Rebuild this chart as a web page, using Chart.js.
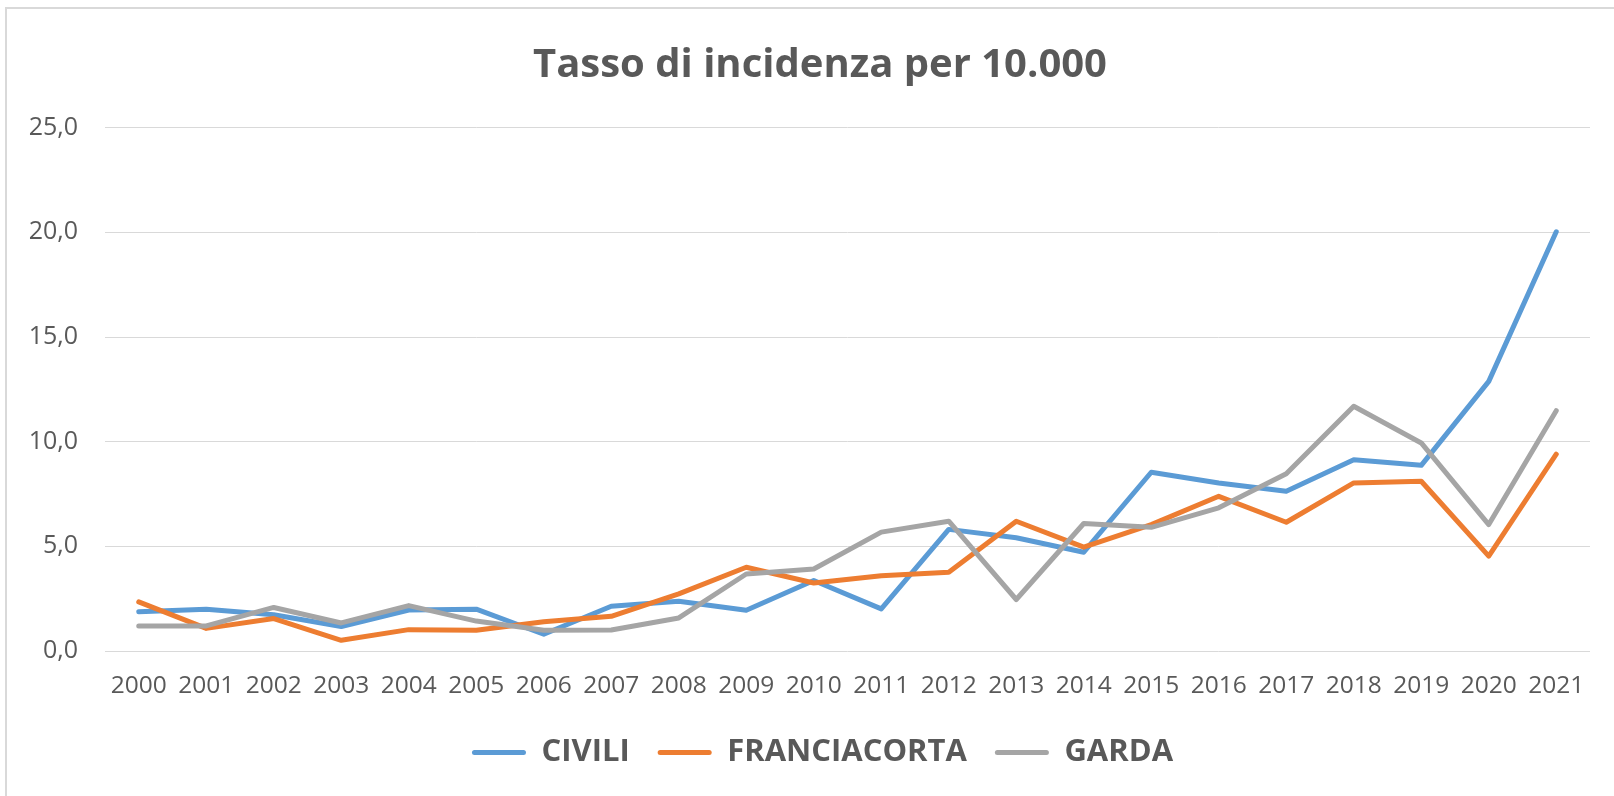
<!DOCTYPE html>
<html>
<head>
<meta charset="utf-8">
<script src="https://cdn.jsdelivr.net/npm/chart.js@4.4.1/dist/chart.umd.min.js"></script>
<style>
  html, body { margin: 0; padding: 0; background: #ffffff; }
  #wrap { position: relative; width: 1614px; height: 796px; overflow: hidden; background: #fff; }
  #frame { position: absolute; left: 5px; top: 7px; width: 1640px; height: 840px; border: 2px solid #d9d9d9; box-sizing: border-box; }
  canvas { position: absolute; left: 0; top: 0; }
</style>
</head>
<body>
<div id="wrap">
  <div id="frame"></div>
  <canvas id="c" width="1614" height="796"></canvas>
</div>
<script>
const years = ['2000','2001','2002','2003','2004','2005','2006','2007','2008','2009','2010','2011','2012','2013','2014','2015','2016','2017','2018','2019','2020','2021'];
const civili = [1.87, 2.0, 1.73, 1.17, 1.96, 2.0, 0.8, 2.14, 2.38, 1.95, 3.37, 2.01, 5.81, 5.41, 4.72, 8.54, 8.03, 7.63, 9.14, 8.87, 12.88, 20.03];
const franciacorta = [2.35, 1.08, 1.55, 0.51, 1.02, 0.99, 1.4, 1.66, 2.73, 4.0, 3.25, 3.6, 3.76, 6.2, 4.96, 6.04, 7.39, 6.15, 8.03, 8.11, 4.53, 9.4];
const garda = [1.2, 1.2, 2.08, 1.34, 2.17, 1.43, 0.99, 1.0, 1.58, 3.68, 3.92, 5.68, 6.2, 2.46, 6.09, 5.91, 6.84, 8.47, 11.69, 9.94, 6.04, 11.48];
const yTicks = { min: 0, max: 25, step: 5 };
const seriesNames = ['CIVILI', 'FRANCIACORTA', 'GARDA'];
const seriesColors = ['#5B9BD5', '#ED7D31', '#A5A5A5'];
const titleText = 'Tasso di incidenza per 10.000';

const textColor = '#595959';
const FONT = "'Open Sans', 'Noto Sans', sans-serif";

function ds(i, data, order) {
  return {
    label: seriesNames[i], data: data,
    borderColor: seriesColors[i], backgroundColor: seriesColors[i],
    borderWidth: 5, pointRadius: 0, pointHoverRadius: 0, tension: 0,
    borderJoinStyle: 'round', borderCapStyle: 'round', fill: false, order: order
  };
}

// shift title & legend centring to match the reference frame
const centerShift = {
  id: 'centerShift',
  afterLayout(chart) {
    if (chart.titleBlock) { chart.titleBlock.left = 50; }
    if (chart.legend) { chart.legend.left = 55; }
  }
};

new Chart(document.getElementById('c'), {
  type: 'line',
  data: {
    labels: years,
    datasets: [ds(0, civili, 3), ds(1, franciacorta, 2), ds(2, garda, 1)]
  },
  plugins: [centerShift],
  options: {
    responsive: false,
    animation: false,
    devicePixelRatio: 1,
    layout: { padding: { left: 0, right: 24, top: 0, bottom: 18 } },
    plugins: {
      tooltip: { enabled: false },
      title: {
        display: true, text: titleText, color: textColor,
        font: { family: FONT, size: 40, weight: 'bold' },
        padding: { top: 42, bottom: 37.7 }
      },
      legend: {
        position: 'bottom',
        labels: {
          color: textColor,
          font: { family: FONT, size: 31, weight: 'bold' },
          boxWidth: 54, boxHeight: 5, padding: 28,
          useBorderRadius: true, borderRadius: 2.5,
          sort: (a, b) => a.datasetIndex - b.datasetIndex,
          generateLabels: (chart) => Chart.defaults.plugins.legend.labels.generateLabels(chart).map(it => {
            it.lineWidth = 0; it.fillStyle = it.strokeStyle; return it;
          })
        }
      }
    },
    scales: {
      x: {
        offset: true,
        grid: { display: false, drawTicks: false },
        border: { display: false },
        ticks: { color: textColor, font: { family: FONT, size: 24.5 }, padding: 20, maxRotation: 0, autoSkip: false },
        afterFit: (s) => { s.height = 58; }
      },
      y: {
        min: yTicks.min, max: yTicks.max,
        grid: { color: '#d9d9d9', lineWidth: 1, drawTicks: false },
        border: { display: false },
        ticks: {
          stepSize: yTicks.step, color: textColor, font: { family: FONT, size: 25 }, padding: 27,
          callback: (v) => Number(v).toFixed(1).replace('.', ',')
        },
        afterFit: (s) => { s.width = 105; }
      }
    }
  }
});
</script>
</body>
</html>
